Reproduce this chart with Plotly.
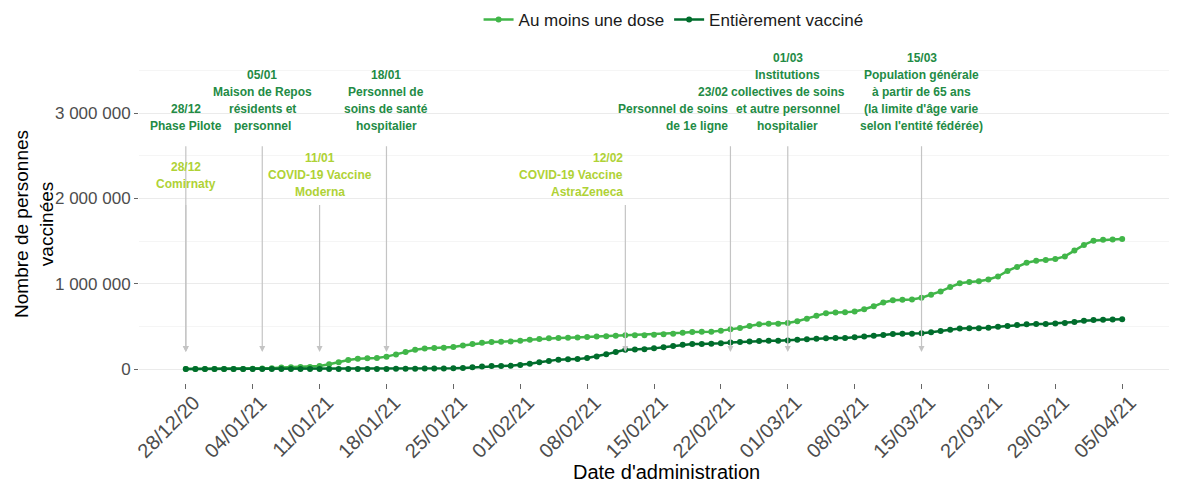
import pandas as pd
import plotly.graph_objects as go

# daily cumulative counts, 28/12/2020 -> 05/04/2021 (thousands)
dates = pd.date_range("2020-12-28", "2021-04-05", freq="D")

au_moins_une_dose = [
    0, 0.3, 0.5, 0.7, 0.8, 0.9, 1,
    2, 5, 10, 17, 22, 24, 25,
    35, 55, 80, 105, 120, 125, 128,
    145, 170, 200, 225, 240, 245, 248,
    258, 275, 292, 308, 318, 321, 323,
    332, 342, 352, 360, 365, 367, 368,
    374, 380, 385, 390, 395, 396, 397,
    402, 408, 414, 424, 434, 436, 438,
    450, 465, 482, 505, 525, 530, 532,
    540, 560, 590, 625, 655, 662, 664,
    675, 700, 735, 780, 805, 812, 815,
    835, 870, 910, 960, 1005, 1020, 1028,
    1050, 1085, 1150, 1195, 1245, 1270, 1278,
    1290, 1320, 1390, 1455, 1505, 1515, 1518,
    1525,
]

entierement_vaccine = [
    0, 0, 0, 0, 0, 0, 0,
    0, 0, 0, 0, 0, 0, 0,
    0, 0, 0, 0, 0.2, 0.3, 0.4,
    1, 2, 3, 4, 5, 5, 5,
    8, 13, 20, 28, 34, 36, 37,
    47, 62, 78, 95, 110, 114, 116,
    130, 148, 172, 200, 225, 230, 232,
    242, 255, 270, 283, 292, 294, 295,
    302, 310, 317, 323, 328, 330, 331,
    335, 342, 350, 356, 362, 364, 365,
    372, 380, 390, 400, 410, 412, 413,
    420, 432, 445, 460, 475, 478, 479,
    485, 495, 505, 515, 525, 527, 528,
    533, 540, 550, 565, 575, 578, 579,
    582,
]

# campaign phases (dark green) and vaccine approvals (yellow-green)
phase_dates = ["2020-12-28", "2021-01-05", "2021-01-18", "2021-02-23", "2021-03-01", "2021-03-15"]
phase_labels = [
    "28/12\nPhase Pilote",
    "05/01\nMaison de Repos\nrésidents et\npersonnel",
    "18/01\nPersonnel de\nsoins de santé\nhospitalier",
    "23/02\nPersonnel de soins\nde 1e ligne",
    "01/03\nInstitutions\ncollectives de soins\net autre personnel\nhospitalier",
    "15/03\nPopulation générale\nà partir de 65 ans\n(la limite d'âge varie\nselon l'entité fédérée)",
]
phase_align = ["center", "center", "center", "right", "center", "center"]

vaccine_dates = ["2020-12-28", "2021-01-11", "2021-02-12"]
vaccine_labels = [
    "28/12\nComirnaty",
    "11/01\nCOVID-19 Vaccine\nModerna",
    "12/02\nCOVID-19 Vaccine\nAstraZeneca",
]
vaccine_align = ["center", "center", "right"]

LIGHT = "#41b649"
DARK = "#006d2c"
PHASE_COL = "#238b45"
VACC_COL = "#afd236"
ARROW_COL = "#c4c4c4"
FONT = "Liberation Sans, Arial, sans-serif"
LINE_H = 17

fig = go.Figure()
fig.add_trace(go.Scatter(
    x=dates, y=[v * 1000 for v in au_moins_une_dose], name="Au moins une dose",
    mode="lines+markers", line=dict(color=LIGHT, width=2.5), marker=dict(size=6, color=LIGHT)))
fig.add_trace(go.Scatter(
    x=dates, y=[v * 1000 for v in entierement_vaccine], name="Entièrement vacciné",
    mode="lines+markers", line=dict(color=DARK, width=2.5), marker=dict(size=6, color=DARK)))


def add_labels(fig, xs, labels, aligns, color, y_anchor, arrow_top, centered):
    for x, lab, al in zip(xs, labels, aligns):
        # arrow from below the text down to near zero
        fig.add_annotation(x=x, y=200000, ax=x, ay=arrow_top, axref="x", ayref="y",
                           text="", showarrow=True, arrowhead=2, arrowsize=1,
                           arrowwidth=1.2, arrowcolor=ARROW_COL)
        lines = lab.split("\n")
        n = len(lines)
        for i, ln in enumerate(lines):
            if centered:
                shift = LINE_H * ((n - 1) / 2 - i)
            else:
                shift = LINE_H * (n - 1 - i)
            fig.add_annotation(x=x, y=y_anchor, text="<b>" + ln + "</b>", showarrow=False,
                               xanchor=al, yanchor="middle", yshift=shift,
                               font=dict(family=FONT, size=12, color=color))


add_labels(fig, phase_dates, phase_labels, phase_align, PHASE_COL, 2849000, 2630000, False)
add_labels(fig, vaccine_dates, vaccine_labels, vaccine_align, VACC_COL, 2274000, 1940000, True)

# axis titles as paper annotations (margins are fixed)
fig.add_annotation(xref="paper", yref="paper", x=0.5126, y=-0.28, text="Date d'administration",
                   showarrow=False, xanchor="center", yanchor="middle",
                   font=dict(family=FONT, size=20, color="#000"))
fig.add_annotation(xref="paper", yref="paper", x=-0.102, y=0.5, text="Nombre de personnes<br>vaccinées",
                   showarrow=False, xanchor="center", yanchor="middle", textangle=-90,
                   font=dict(family=FONT, size=19, color="#000"))

pad = pd.Timedelta(days=4.9)
fig.update_layout(
    width=1184, height=484,
    margin=dict(l=131, r=23, t=57, b=109, autoexpand=False),
    plot_bgcolor="white", paper_bgcolor="white",
    separators=", ",
    font=dict(family=FONT, color="#1a1a1a"),
    legend=dict(orientation="h", x=0.519, xanchor="center", y=1.1415, yanchor="middle",
                font=dict(size=17, color="#1a1a1a"), itemwidth=30),
    showlegend=True,
)
fig.update_xaxes(
    range=[dates[0] - pad, dates[-1] + pad],
    tickvals=pd.date_range("2020-12-28", "2021-04-05", freq="7D"),
    tickformat="%d/%m/%y", tickangle=-45, ticklabelshift=8, ticklabelstandoff=-6,
    tickfont=dict(size=20, color="#4d4d4d"),
    ticks="outside", ticklen=5, tickcolor="#666",
    showgrid=False, zeroline=False, showline=False, automargin=False,
)
fig.update_yaxes(
    range=[-164000, 3564000],
    tick0=0, dtick=1000000, tickformat=",d",
    tickfont=dict(size=17, color="#4d4d4d"),
    ticks="outside", ticklen=4, tickcolor="#666",
    showgrid=True, gridcolor="#ebebeb", gridwidth=1,
    minor=dict(dtick=500000, tick0=0, showgrid=True, gridcolor="#f5f5f5", ticks=""),
    zeroline=False, showline=False, automargin=False,
)

fig.write_html("out.html")
